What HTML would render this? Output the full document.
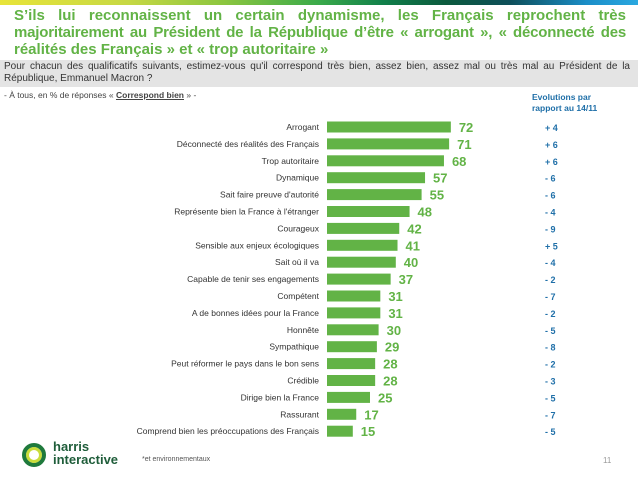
<!DOCTYPE html>
<html><head><meta charset="utf-8"><style>
body{margin:0;width:638px;height:479px;overflow:hidden;background:#fff;font-family:"Liberation Sans",sans-serif;position:relative}
.abs{position:absolute}
.title{left:14px;top:7px;width:612px;color:#62b346;font-weight:bold;font-size:15px;line-height:17px}
.title div{white-space:nowrap}
.title .j{text-align:justify;text-align-last:justify;white-space:normal}
.q{left:0;top:60px;width:638px;height:27px;background:#e4e4e4;font-size:10px;line-height:12px;color:#333;padding:1px 8px 0 4px;box-sizing:border-box;text-align:justify}
</style></head><body>
<div class="abs" style="left:0;top:0;width:638px;height:5px;background:linear-gradient(90deg,#e8e43a 0%,#c6d844 20%,#8cc63f 35%,#3aaa4a 50%,#11804a 60%,#0c5a3e 70%,#0e4f5a 80%,#1b8ec8 92%,#2aa8e0 100%)"></div>
<div class="abs title"><div class="j">S’ils lui reconnaissent un certain dynamisme, les Français reprochent très</div><div class="j" style="letter-spacing:-0.2px">majoritairement au Président de la République d’être « arrogant », « déconnecté des</div><div>réalités des Français » et « trop autoritaire »</div></div>
<div class="abs q">Pour chacun des qualificatifs suivants, estimez-vous qu'il correspond très bien, assez bien, assez mal ou très mal au Président de la République, Emmanuel Macron ?</div>
<div class="abs" style="left:4px;top:90px;font-size:8.5px;color:#444">- À tous, en % de réponses « <b style="text-decoration:underline">Correspond bien</b> » -</div>
<div class="abs" style="left:532px;top:92px;font-size:8.5px;font-weight:bold;color:#1f6fa8;line-height:11px">Evolutions par<br>rapport au 14/11</div>
<svg class="abs" style="left:0;top:0" width="638" height="479" id="chart"></svg>
<div class="abs" style="left:22px;top:443px;width:24px;height:24px;border-radius:50%;border:4px solid #1f7a3c;box-sizing:border-box;box-shadow:inset 0 0 0 3px #c9dc3a"></div>
<div class="abs" style="left:53px;top:440px;font-size:13px;font-weight:bold;color:#1f5d3a;line-height:13px">harris<br>interactive</div>
<div class="abs" style="left:142px;top:456px;font-size:7px;color:#555">*et environnementaux</div>
<div class="abs" style="left:603px;top:456px;font-size:8px;color:#999">11</div>
<script>
const categories=["Arrogant","Déconnecté des réalités des Français","Trop autoritaire","Dynamique","Sait faire preuve d'autorité","Représente bien la France à l'étranger","Courageux","Sensible aux enjeux écologiques","Sait où il va","Capable de tenir ses engagements","Compétent","A de bonnes idées pour la France","Honnête","Sympathique","Peut réformer le pays dans le bon sens","Crédible","Dirige bien la France","Rassurant","Comprend bien les préoccupations des Français"];
const values=[72,71,68,57,55,48,42,41,40,37,31,31,30,29,28,28,25,17,15];
const evolutions=["+ 4","+ 6","+ 6","- 6","- 6","- 4","- 9","+ 5","- 4","- 2","- 7","- 2","- 5","- 8","- 2","- 3","- 5","- 7","- 5"];
const svg=document.getElementById('chart');const NS='http://www.w3.org/2000/svg';
const x0=327,k=1.72,y0=127,step=16.9,bh=11;
const xs=v=>x0+v*k, ys=i=>y0+i*step;
function mk(t,a,txt){const e=document.createElementNS(NS,t);for(const p in a)e.setAttribute(p,a[p]);if(txt!=null)e.textContent=txt;svg.appendChild(e);return e;}
categories.forEach((c,i)=>{
 const cy=ys(i);
 const l=mk('text',{x:x0-8,y:cy+3,'text-anchor':'end','font-size':'8.5','fill':'#333','font-family':'Liberation Sans'},c);
 
 
 const r=mk('rect',{x:x0,y:cy-bh/2,width:xs(values[i])-x0,height:bh,fill:'#62b346'});
 
 
 const v=mk('text',{x:xs(values[i])+8,y:cy+5,'font-size':'13','font-weight':'bold','fill':'#62b346','font-family':'Liberation Sans'},values[i]);
 
 
 const ev=mk('text',{x:545,y:cy+4,'font-size':'9','font-weight':'bold','fill':'#1f6fa8','font-family':'Liberation Sans'},evolutions[i]);
 
 
});
</script>
</body></html>
